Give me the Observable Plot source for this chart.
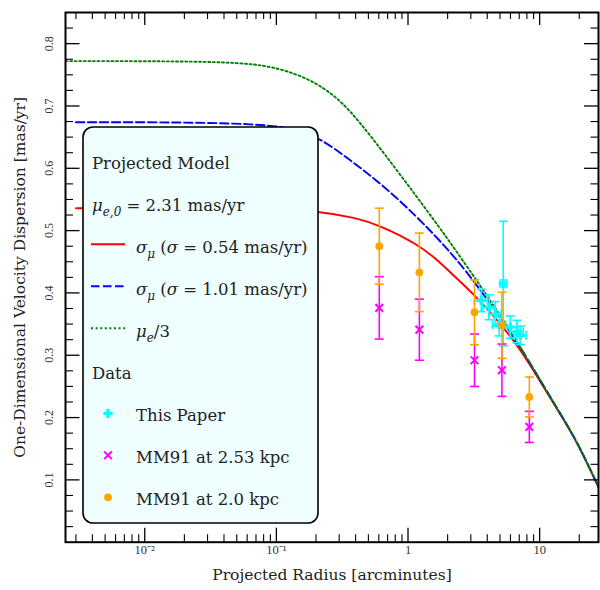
<!DOCTYPE html>
<html>
<head>
<meta charset="utf-8">
<script src="https://cdn.jsdelivr.net/npm/d3@7"></script>
<script src="https://cdn.jsdelivr.net/npm/@observablehq/plot@0.6"></script>
<style>
  body { margin: 0; background: #fff; }
  svg { display: block; }
</style>
</head>
<body>
<div id="chart"></div>
<script>
// ---- Model curves: projected radius [arcmin] -> 1D dispersion [mas/yr]
const sigma054R = [0.003, 0.01, 0.03, 0.1, 0.208, 0.4, 0.617, 1.17, 1.76, 2.09, 3.13, 5.0, 7.1, 10.1, 14.3, 18.1, 22.2, 28];
const sigma054V = [0.536, 0.536, 0.536, 0.534, 0.531, 0.521, 0.508, 0.479, 0.449, 0.433, 0.399, 0.352, 0.310, 0.258, 0.206, 0.170, 0.133, 0.088];

const sigma101R = [0.003, 0.01, 0.03, 0.0635, 0.128, 0.21, 0.365, 0.653, 1.17, 1.76, 2.09, 2.5, 3.13, 4.0, 5.0, 7.1, 10.1, 14.3, 18.1, 22.2, 28];
const sigma101V = [0.674, 0.674, 0.673, 0.671, 0.666, 0.650, 0.613, 0.572, 0.522, 0.483, 0.465, 0.446, 0.420, 0.389, 0.361, 0.314, 0.260, 0.207, 0.171, 0.134, 0.089];

const muThirdR = [0.0025, 0.01, 0.03, 0.05, 0.076, 0.12, 0.2, 0.307, 0.434, 0.653, 1.17, 1.76, 2.09, 3.13, 4.0, 5.0, 7.1, 10.1, 14.3, 18.1, 22.2, 28];
const muThirdV = [0.772, 0.772, 0.771, 0.769, 0.766, 0.757, 0.738, 0.709, 0.673, 0.625, 0.554, 0.503, 0.481, 0.428, 0.395, 0.364, 0.314, 0.260, 0.207, 0.171, 0.134, 0.089];

// ---- This Paper (with radial bin widths)
const paperR   = [3.60, 4.14, 4.60, 4.93, 5.29, 5.98, 6.73, 7.12];
const paperRLo = [3.20, 3.70, 4.10, 4.40, 5.00, 5.30, 6.00, 6.40];
const paperRHi = [4.00, 4.60, 5.10, 5.50, 5.60, 6.70, 7.50, 7.90];
const paperV   = [0.388, 0.377, 0.366, 0.349, 0.415, 0.345, 0.338, 0.332];
const paperErr = [0.018, 0.020, 0.020, 0.018, 0.100, 0.018, 0.018, 0.015];

// ---- MM91 at two assumed distances
const mm91R      = [0.605, 1.22, 3.2, 5.17, 8.35];
const mm91V253   = [0.376, 0.341, 0.292, 0.276, 0.185];
const mm91Err253 = [0.050, 0.049, 0.042, 0.042, 0.025];
const mm91V20    = [0.475, 0.433, 0.369, 0.348, 0.233];
const mm91Err20  = [0.061, 0.063, 0.052, 0.053, 0.032];

// ---- Axes ticks
const xMajor = [0.01, 0.1, 1, 10];
const xMajorLabels = ["10\u207B\u00B2", "10\u207B\u00B9", "1", "10"];
const xMinor = [0.003,0.004,0.005,0.006,0.007,0.008,0.009,
                0.02,0.03,0.04,0.05,0.06,0.07,0.08,0.09,
                0.2,0.3,0.4,0.5,0.6,0.7,0.8,0.9,
                2,3,4,5,6,7,8,9,20];
const yMajor = [0.1, 0.2, 0.3, 0.4, 0.5, 0.6, 0.7, 0.8];
const yMajorLabels = ["0.1", "0.2", "0.3", "0.4", "0.5", "0.6", "0.7", "0.8"];
const yMinor = [0.025,0.05,0.075,0.125,0.15,0.175,0.225,0.25,0.275,0.325,0.35,0.375,
                0.425,0.45,0.475,0.525,0.55,0.575,0.625,0.65,0.675,0.725,0.75,0.775,0.825];

const FONT = "'DejaVu Serif', serif";
const TICKFONT = "'Liberation Serif', serif";

// tables
const curve = (R, V) => R.map((r, i) => ({r, v: V[i]}));
const red = curve(sigma054R, sigma054V);
const blue = curve(sigma101R, sigma101V);
const green = curve(muThirdR, muThirdV);
const paper = paperR.map((r, i) => ({r, v: paperV[i], lo: paperV[i] - paperErr[i], hi: paperV[i] + paperErr[i], rlo: paperRLo[i], rhi: paperRHi[i]}));
const mmA = mm91R.map((r, i) => ({r, v: mm91V253[i], lo: mm91V253[i] - mm91Err253[i], hi: mm91V253[i] + mm91Err253[i]}));
const mmB = mm91R.map((r, i) => ({r, v: mm91V20[i], lo: mm91V20[i] - mm91Err20[i], hi: mm91V20[i] + mm91Err20[i]}));

// custom symbols: error-bar caps and a filled plus
const rad = size => Math.sqrt(size / Math.PI);
const hCap = {draw(ctx, size) { const r = rad(size); ctx.moveTo(-r, 0); ctx.lineTo(r, 0); }};
const vCap = {draw(ctx, size) { const r = rad(size); ctx.moveTo(0, -r); ctx.lineTo(0, r); }};
const plusFilled = {draw(ctx, size) {
  const r = rad(size), a = r * 0.36;
  ctx.moveTo(-a, -r); ctx.lineTo(a, -r); ctx.lineTo(a, -a); ctx.lineTo(r, -a);
  ctx.lineTo(r, a); ctx.lineTo(a, a); ctx.lineTo(a, r); ctx.lineTo(-a, r);
  ctx.lineTo(-a, a); ctx.lineTo(-r, a); ctx.lineTo(-r, -a); ctx.lineTo(-a, -a);
  ctx.closePath();
}};

const W = 600, H = 590;
const mL = 65, mR = 2, mT = 12, mB = 48.3;
const innerW = W - mL - mR, innerH = H - mT - mB;

const DASH = "8.5,3.5", DOT = "2,2.6";

function errorMarks(data, color, capR) {
  return [
    Plot.ruleX(data, {x: "r", y1: "lo", y2: "hi", stroke: color, strokeWidth: 1.6}),
    Plot.dot(data, {x: "r", y: "lo", symbol: hCap, r: capR, stroke: color, strokeWidth: 1.6}),
    Plot.dot(data, {x: "r", y: "hi", symbol: hCap, r: capR, stroke: color, strokeWidth: 1.6})
  ];
}

const chart = Plot.plot({
  width: W, height: H,
  marginLeft: mL, marginRight: mR, marginTop: mT, marginBottom: mB,
  x: {type: "log", domain: [0.0025, 28], axis: null},
  y: {domain: [0, 0.85], axis: null},
  style: {fontFamily: FONT, background: "white", overflow: "visible"},
  marks: [
    // model curves
    Plot.line(red,   {x: "r", y: "v", stroke: "#ff0000", strokeWidth: 1.9, curve: "basis", clip: true}),
    Plot.line(blue,  {x: "r", y: "v", stroke: "#0000ff", strokeWidth: 1.9, strokeDasharray: DASH, curve: "basis", clip: true}),
    Plot.line(green, {x: "r", y: "v", stroke: "#008000", strokeWidth: 1.9, strokeDasharray: DOT, curve: "basis", clip: true}),

    // This Paper
    Plot.ruleY(paper, {y: "v", x1: "rlo", x2: "rhi", stroke: "#00ffff", strokeWidth: 1.6}),
    Plot.dot(paper, {x: "rlo", y: "v", symbol: vCap, r: 4.5, stroke: "#00ffff", strokeWidth: 1.6}),
    Plot.dot(paper, {x: "rhi", y: "v", symbol: vCap, r: 4.5, stroke: "#00ffff", strokeWidth: 1.6}),
    ...errorMarks(paper, "#00ffff", 4.5),
    Plot.dot(paper, {x: "r", y: "v", symbol: plusFilled, r: 4.6, fill: "#00ffff", stroke: "none"}),

    // MM91 at 2.53 kpc
    ...errorMarks(mmA, "#ff00ff", 4.5),
    Plot.dot(mmA, {x: "r", y: "v", symbol: "times", r: 3.6, stroke: "#ff00ff", strokeWidth: 2}),

    // MM91 at 2.0 kpc
    ...errorMarks(mmB, "#ffa500", 4.5),
    Plot.dot(mmB, {x: "r", y: "v", r: 3.9, fill: "#ffa500", stroke: "none"}),

    // inward ticks on all four sides
    Plot.tickX(xMajor, {x: d => d, insetTop: innerH - 14, stroke: "black", strokeWidth: 1.3}),
    Plot.tickX(xMajor, {x: d => d, insetBottom: innerH - 13, stroke: "black", strokeWidth: 1.3}),
    Plot.tickX(xMinor, {x: d => d, insetTop: innerH - 7.5, stroke: "black", strokeWidth: 1.1}),
    Plot.tickX(xMinor, {x: d => d, insetBottom: innerH - 7, stroke: "black", strokeWidth: 1.1}),
    Plot.tickY(yMajor, {y: d => d, insetRight: innerW - 14.5, stroke: "black", strokeWidth: 1.3}),
    Plot.tickY(yMajor, {y: d => d, insetLeft: innerW - 14, stroke: "black", strokeWidth: 1.3}),
    Plot.tickY(yMinor, {y: d => d, insetRight: innerW - 8, stroke: "black", strokeWidth: 1.1}),
    Plot.tickY(yMinor, {y: d => d, insetLeft: innerW - 7.5, stroke: "black", strokeWidth: 1.1}),

    // tick labels
    Plot.text(xMajor, {x: d => d, text: (d, i) => xMajorLabels[i], frameAnchor: "bottom", dy: 12, fontSize: 12.5, fontFamily: TICKFONT, textAnchor: "middle", fill: "#333"}),
    Plot.text(yMajor, {y: d => d, text: (d, i) => yMajorLabels[i], frameAnchor: "left", dx: -16, rotate: -90, fontSize: 12, fontFamily: TICKFONT, textAnchor: "middle", fill: "#333"}),

    // axis titles
    Plot.text(["Projected Radius [arcminutes]"], {text: d => d, frameAnchor: "bottom", dy: 38, fontSize: 15.5, textAnchor: "middle", fill: "#222"}),
    Plot.text(["One-Dimensional Velocity Dispersion [mas/yr]"], {text: d => d, frameAnchor: "left", dx: -45, rotate: -90, fontSize: 15.5, textAnchor: "middle", fill: "#222"}),

    Plot.frame({stroke: "black", strokeWidth: 2})
  ]
});

document.getElementById("chart").appendChild(chart);

// ---- Legend box drawn inside the axes
const svg = d3.select(chart);
const lg = svg.append("g").attr("font-family", FONT).attr("font-size", 16.5)
  .attr("fill", "#222").attr("text-anchor", "start");
lg.append("rect")
  .attr("x", 83).attr("y", 127).attr("width", 235).attr("height", 396)
  .attr("rx", 10).attr("fill", "#effefe").attr("stroke", "black").attr("stroke-width", 1.6);

const rowY = i => 169.3 + 42 * i;
const textX = 136, headX = 92, handleX0 = 91, handleX1 = 125, handleCx = 108;

function mathText(x, y, parts) {
  const t = lg.append("text").attr("x", x).attr("y", y);
  let shift = 0;
  for (const p of parts) {
    const s = t.append("tspan").text(p.t);
    const target = p.sub ? 4.5 : 0;
    if (target !== shift) { s.attr("dy", target - shift); shift = target; }
    if (p.it) s.attr("font-style", "italic");
    if (p.sub) s.attr("font-size", 12);
  }
  return t;
}

mathText(headX, rowY(0), [{t: "Projected Model"}]);
mathText(headX, rowY(1), [{t: "\u03BC", it: true}, {t: "e,0", it: true, sub: true}, {t: " = 2.31 mas/yr"}]);

const sigmaLabel = val => [{t: "\u03C3", it: true}, {t: "\u03BC", it: true, sub: true}, {t: " ("}, {t: "\u03C3", it: true}, {t: ` = ${val} mas/yr)`}];

lg.append("line").attr("x1", handleX0).attr("x2", handleX1).attr("y1", rowY(2) - 9).attr("y2", rowY(2) - 9)
  .attr("stroke", "#ff0000").attr("stroke-width", 1.9);
mathText(textX, rowY(2), sigmaLabel("0.54"));

lg.append("line").attr("x1", handleX0).attr("x2", handleX1).attr("y1", rowY(3) - 9).attr("y2", rowY(3) - 9)
  .attr("stroke", "#0000ff").attr("stroke-width", 1.9).attr("stroke-dasharray", DASH);
mathText(textX, rowY(3), sigmaLabel("1.01"));

lg.append("line").attr("x1", handleX0).attr("x2", handleX1).attr("y1", rowY(4) - 9).attr("y2", rowY(4) - 9)
  .attr("stroke", "#008000").attr("stroke-width", 1.9).attr("stroke-dasharray", DOT);
mathText(textX, rowY(4), [{t: "\u03BC", it: true}, {t: "e", it: true, sub: true}, {t: "/3"}]);

mathText(headX, rowY(5), [{t: "Data"}]);

const symSize = r => Math.PI * r * r;
lg.append("path").attr("transform", `translate(${handleCx},${rowY(6) - 8})`)
  .attr("d", d3.symbol(plusFilled, symSize(4.6))()).attr("fill", "#00ffff");
mathText(textX, rowY(6), [{t: "This Paper"}]);

lg.append("path").attr("transform", `translate(${handleCx},${rowY(7) - 8})`)
  .attr("d", d3.symbol(d3.symbolTimes, symSize(3.6))()).attr("fill", "none").attr("stroke", "#ff00ff").attr("stroke-width", 2);
mathText(textX, rowY(7), [{t: "MM91 at 2.53 kpc"}]);

lg.append("circle").attr("cx", handleCx).attr("cy", rowY(8) - 8).attr("r", 3.9).attr("fill", "#ffa500");
mathText(textX, rowY(8), [{t: "MM91 at 2.0 kpc"}]);
</script>
</body>
</html>
